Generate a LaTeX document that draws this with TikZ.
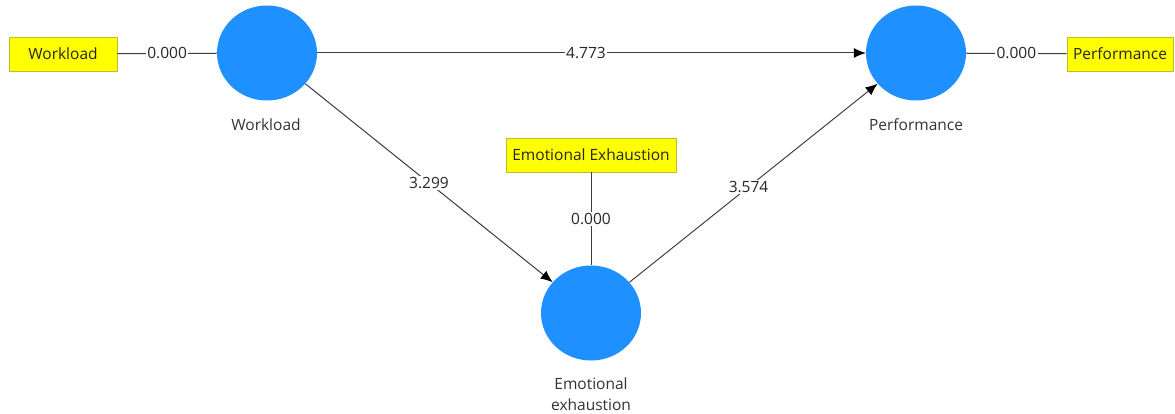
\documentclass[tikz,border=0pt]{standalone}
\usepackage{fontspec}
\setmainfont{Open Sans}
\usetikzlibrary{arrows.meta,shapes.geometric}
\definecolor{lv}{RGB}{30,144,255}
\definecolor{ind}{RGB}{255,255,0}
\definecolor{indborder}{RGB}{190,190,40}
\definecolor{edge}{RGB}{60,60,60}
\begin{document}
\begin{tikzpicture}[x=1pt,y=-1pt,
  font=\fontsize{15.5}{18}\selectfont,
  latent/.style={ellipse,fill=lv,draw=none,minimum width=100pt,minimum height=95pt,inner sep=0pt},
  indicator/.style={rectangle,fill=ind,draw=indborder,line width=0.8pt,minimum height=34pt,inner sep=0pt,text=black!85},
  caption/.style={text=black!80,align=center},
  conn/.style={draw=edge,line width=1pt},
  arr/.style={conn,-{Latex[length=12pt,width=10pt,fill=black,color=black]}},
  elab/.style={fill=white,inner sep=1.5pt,text=black!85}]
\useasboundingbox (0,0) rectangle (1175,414);
\fill[white] (0,0) rectangle (1175,414);
% latent variables
\node[latent] (wl) at (267,53) {};
\node[latent] (pf) at (916,53) {};
\node[latent] (ee) at (591,313) {};
% captions
\node[caption] (wlc) at (266,125) {Workload};
\node[caption] (pfc) at (916,125) {Performance};
\node[caption,text width=100pt,font=\fontsize{15.5}{21}\selectfont] (eec) at (591,394) {Emotional\\exhaustion};
% indicators
\node[indicator,minimum width=108pt] (wli) at (63,54) {Workload};
\node[indicator,minimum width=106pt] (pfi) at (1120,54) {Performance};
\node[indicator,minimum width=170pt] (eei) at (591,155) {Emotional Exhaustion};
% measurement links
\draw[conn] (wli) -- node[elab] {0.000} (wl);
\draw[conn] (pf) -- node[elab] {0.000} (pfi);
\draw[conn] (eei) -- node[elab] {0.000} (ee);
% structural paths
\draw[arr] (wl) -- node[elab,pos=0.49] {4.773} (pf);
\draw[arr] (wl) -- node[elab,pos=0.5] {3.299} (ee);
\draw[arr] (ee) -- node[elab,pos=0.48] {3.574} (pf);
\end{tikzpicture}
\end{document}
